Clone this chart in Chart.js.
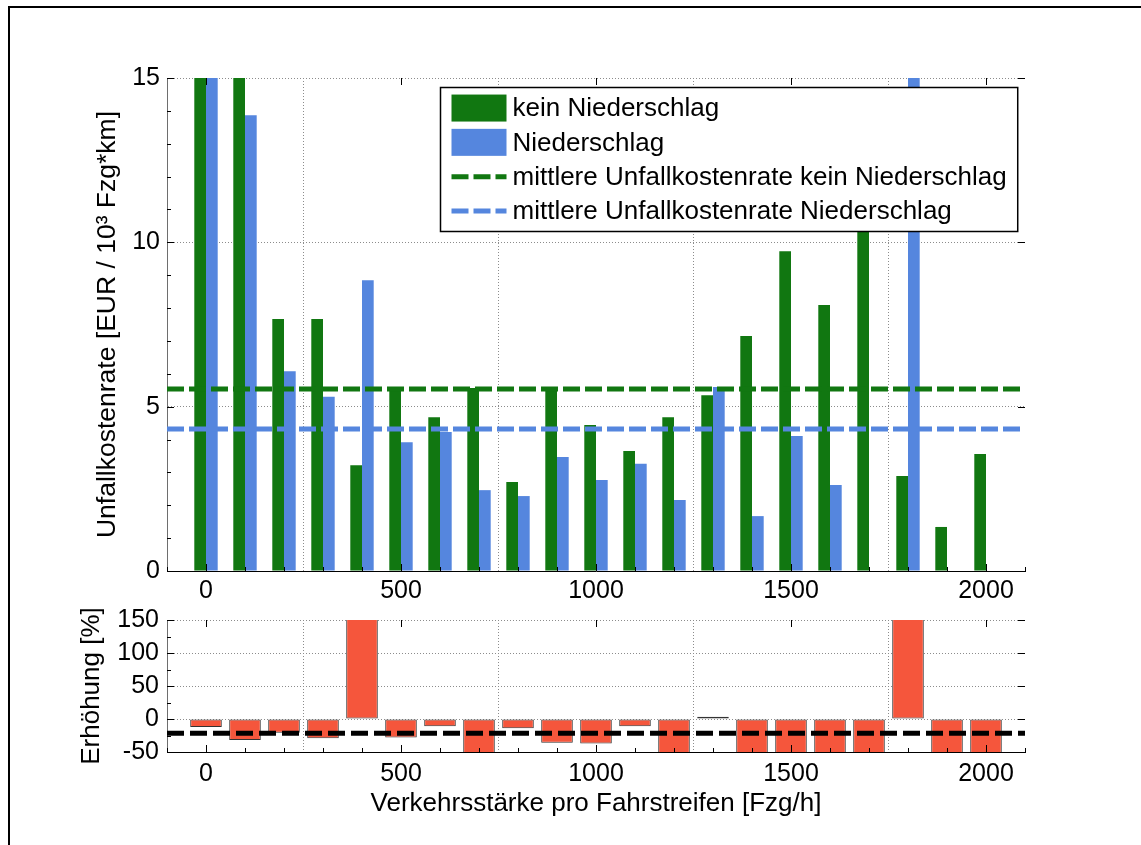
<!DOCTYPE html>
<html><head><meta charset="utf-8">
<script src="https://cdn.jsdelivr.net/npm/chart.js@4.4.1/dist/chart.umd.min.js"></script>
<style>
html,body{margin:0;padding:0;background:#fff;width:1141px;height:845px;overflow:hidden;position:relative;}
#frame{position:absolute;left:8px;top:6px;width:1300px;height:1000px;border-left:2px solid #000;border-top:2px solid #000;}
#c1{position:absolute;left:0;top:0;}
#c2{position:absolute;left:0;top:590px;}
</style></head><body>
<div id="frame"></div>
<canvas id="c1" width="1141" height="620"></canvas>
<canvas id="c2" width="1141" height="255"></canvas>
<script>
// ---- data ----
const flows = [0,100,200,300,400,500,600,700,800,900,1000,1100,1200,1300,1400,1500,1600,1700,1800,1900,2000];
const keinNiederschlag = [17.5,20.4,7.67,7.67,3.22,5.57,4.68,5.57,2.71,5.57,4.44,3.65,4.68,5.35,7.15,9.73,8.09,10.8,2.89,1.34,3.56];
const niederschlag     = [15.4,13.87,6.08,5.30,8.85,3.92,4.23,2.46,2.28,3.47,2.77,3.26,2.16,5.60,1.67,4.11,2.62,0,16,0,0];
const meanKein = 5.54;
const meanNieder = 4.32;
const erhoehung = [-12,-32,-21,-29,175,-28,-11,-56,-14,-36,-37,-11,-54,3.5,-77,-58,-68,-100,420,-100,-100];
const meanErhoehung = -21.5;
const xTicks = [0,500,1000,1500,2000];
const yTicksTop = [0,5,10,15];
const yTicksBottom = [-50,0,50,100,150];
const labels = ['kein Niederschlag','Niederschlag','mittlere Unfallkostenrate kein Niederschlag','mittlere Unfallkostenrate Niederschlag'];

const GREEN = '#117711', BLUE = '#5586de', RED = '#f5563c';
const FONT = '"Liberation Sans", Arial, Helvetica, sans-serif';
Chart.defaults.font.family = FONT;
Chart.defaults.color = '#000';
const X_MIN = -100, X_MAX = 2100;

function range(a,b,s){const r=[];for(let v=a;v<=b+1e-9;v+=s)r.push(v);return r;}
const plain = v => String(v);

const axisTicks = {
  id:'axisTicks',
  afterDatasetsDraw(chart, args, o){
    const {ctx, chartArea:a, scales:{x,y}} = chart;
    ctx.save(); ctx.strokeStyle='#000'; ctx.lineWidth=1; ctx.setLineDash([]);
    const vline=(px,y1,y2)=>{px=Math.round(px)+0.5;ctx.beginPath();ctx.moveTo(px,y1);ctx.lineTo(px,y2);ctx.stroke();};
    const hline=(py,x1,x2)=>{py=Math.round(py)+0.5;ctx.beginPath();ctx.moveTo(x1,py);ctx.lineTo(x2,py);ctx.stroke();};
    o.xMinor.forEach(v=>{const p=x.getPixelForValue(v); vline(p,a.bottom,a.bottom-4);});
    xTicks.forEach(v=>{const p=x.getPixelForValue(v); vline(p,a.bottom,a.bottom-7); vline(p,a.top,a.top+7);});
    o.yMinor.forEach(v=>{const p=y.getPixelForValue(v); hline(p,a.left,a.left+4);});
    o.yMajor.forEach(v=>{const p=y.getPixelForValue(v); hline(p,a.left,a.left+7); hline(p,a.right-7,a.right);});
    ctx.restore();
  }
};

const legendBox = {
  id:'legendBox',
  afterDraw(chart, args, o){
    if(!o.show) return;
    const ctx = chart.ctx, a = chart.chartArea;
    const ds = chart.data.datasets;
    ctx.save();
    ctx.font = o.fontSize + 'px ' + FONT;
    const tw = Math.max(...ds.map(d=>ctx.measureText(d.label).width));
    const w = o.padL + o.sample + o.gap + tw + o.padR;
    const h = o.rowH*ds.length + o.padV*2;
    const x0 = Math.round(a.right - o.marginR - w)+0.5, y0 = Math.round(a.top + o.marginT)+0.5;
    ctx.fillStyle='#fff'; ctx.fillRect(x0,y0,w,h);
    ctx.strokeStyle='#000'; ctx.lineWidth=1.5; ctx.strokeRect(x0,y0,w,h);
    ds.forEach((d,i)=>{
      const cy = y0 + o.padV + o.rowH*(i+0.5);
      const sx = x0 + o.padL;
      if((d.type||'bar')==='bar'){
        ctx.fillStyle = d.backgroundColor;
        ctx.fillRect(sx, cy-13.5, o.sample, 27);
      } else {
        ctx.strokeStyle = d.borderColor; ctx.lineWidth = d.borderWidth;
        ctx.setLineDash(d.borderDash); ctx.beginPath(); ctx.moveTo(sx,cy); ctx.lineTo(sx+o.sample,cy); ctx.stroke();
        ctx.setLineDash([]);
      }
      ctx.fillStyle='#000'; ctx.textBaseline='middle'; ctx.textAlign='left';
      ctx.fillText(d.label, sx + o.sample + o.gap, cy+1);
    });
    ctx.restore();
  }
};

const gridCommon = {color:'#8c8c8c', lineWidth:1, drawTicks:false};

// ---- top chart ----
new Chart(document.getElementById('c1'), {
  type:'bar',
  data:{
    datasets:[
      {label:labels[0], data:flows.map((f,i)=>({x:f,y:keinNiederschlag[i]})), backgroundColor:GREEN, borderWidth:0, categoryPercentage:0.6, barPercentage:1, clip:0},
      {label:labels[1], data:flows.map((f,i)=>({x:f,y:niederschlag[i]})), backgroundColor:BLUE, borderWidth:0, categoryPercentage:0.6, barPercentage:1, clip:0},
      {type:'line', label:labels[2], data:[{x:X_MIN,y:meanKein},{x:X_MAX,y:meanKein}], borderColor:GREEN, borderWidth:5, borderDash:[17,5], pointRadius:0, order:-1},
      {type:'line', label:labels[3], data:[{x:X_MIN,y:meanNieder},{x:X_MAX,y:meanNieder}], borderColor:BLUE, borderWidth:5, borderDash:[17,5], pointRadius:0, order:-1}
    ]
  },
  options:{
    responsive:false, animation:false, events:[],
    layout:{padding:{left:0,top:78,right:116,bottom:0}},
    plugins:{legend:{display:false}, tooltip:{enabled:false},
      axisTicks:{xMinor:range(-100,2100,100), yMinor:range(0,15,1), yMajor:yTicksTop},
      legendBox:{show:true, fontSize:26, padL:11, sample:55, gap:6, padR:11, rowH:34.3, padV:3.4, marginR:8, marginT:9}
    },
    scales:{
      x:{type:'linear', min:X_MIN, max:X_MAX, offset:false,
        afterBuildTicks:s=>{s.ticks = xTicks.map(v=>({value:v}));},
        afterFit:s=>{s.height = 49;},
        ticks:{font:{size:25}, padding:5, maxRotation:0, autoSkip:false, callback:plain},
        grid:gridCommon, border:{display:true, color:'#000', width:1, dash:[1,2]}
      },
      y:{min:0, max:15,
        afterBuildTicks:s=>{s.ticks = yTicksTop.map(v=>({value:v}));},
        afterFit:s=>{s.width = 167;},
        ticks:{font:{size:25}, padding:7, callback:plain},
        grid:gridCommon, border:{display:true, color:'#6e6e6e', width:1, dash:[1,2]},
        title:{display:true, text:'Unfallkostenrate [EUR / 10³ Fzg*km]', font:{size:26.5}, padding:{top:92,bottom:0}}
      }
    }
  },
  plugins:[axisTicks, legendBox]
});

// ---- bottom chart ----
new Chart(document.getElementById('c2'), {
  type:'bar',
  data:{
    datasets:[
      {label:'Erhöhung', data:flows.map((f,i)=>({x:f,y:erhoehung[i]})), backgroundColor:RED, borderColor:'#333', borderWidth:1, borderSkipped:false, categoryPercentage:0.81, barPercentage:1, clip:0},
      {type:'line', label:'mittlere Erhöhung', data:[{x:X_MIN,y:meanErhoehung},{x:X_MAX,y:meanErhoehung}], borderColor:'#000', borderWidth:5, borderDash:[17,6], pointRadius:0, order:-1}
    ]
  },
  options:{
    responsive:false, animation:false, events:[],
    layout:{padding:{left:0,top:30,right:116,bottom:0}},
    plugins:{legend:{display:false}, tooltip:{enabled:false},
      axisTicks:{xMinor:range(-100,2100,100), yMinor:range(-50,150,25), yMajor:yTicksBottom},
      legendBox:{show:false}
    },
    scales:{
      x:{type:'linear', min:X_MIN, max:X_MAX, offset:false,
        afterBuildTicks:s=>{s.ticks = xTicks.map(v=>({value:v}));},
        afterFit:s=>{s.height = 93;},
        ticks:{font:{size:25}, padding:7, maxRotation:0, autoSkip:false, callback:plain},
        grid:gridCommon, border:{display:true, color:'#000', width:1, dash:[1,2]},
        title:{display:true, text:'Verkehrsstärke pro Fahrstreifen [Fzg/h]', font:{size:26}, padding:{top:0,bottom:26}}
      },
      y:{min:-50, max:150,
        afterBuildTicks:s=>{s.ticks = yTicksBottom.map(v=>({value:v}));},
        afterFit:s=>{s.width = 167;},
        ticks:{font:{size:25}, padding:8, callback:plain},
        grid:gridCommon, border:{display:true, color:'#6e6e6e', width:1, dash:[1,2]},
        title:{display:true, text:'Erhöhung [%]', font:{size:26}, padding:{top:76,bottom:0}}
      }
    }
  },
  plugins:[axisTicks]
});
</script>
</body></html>
